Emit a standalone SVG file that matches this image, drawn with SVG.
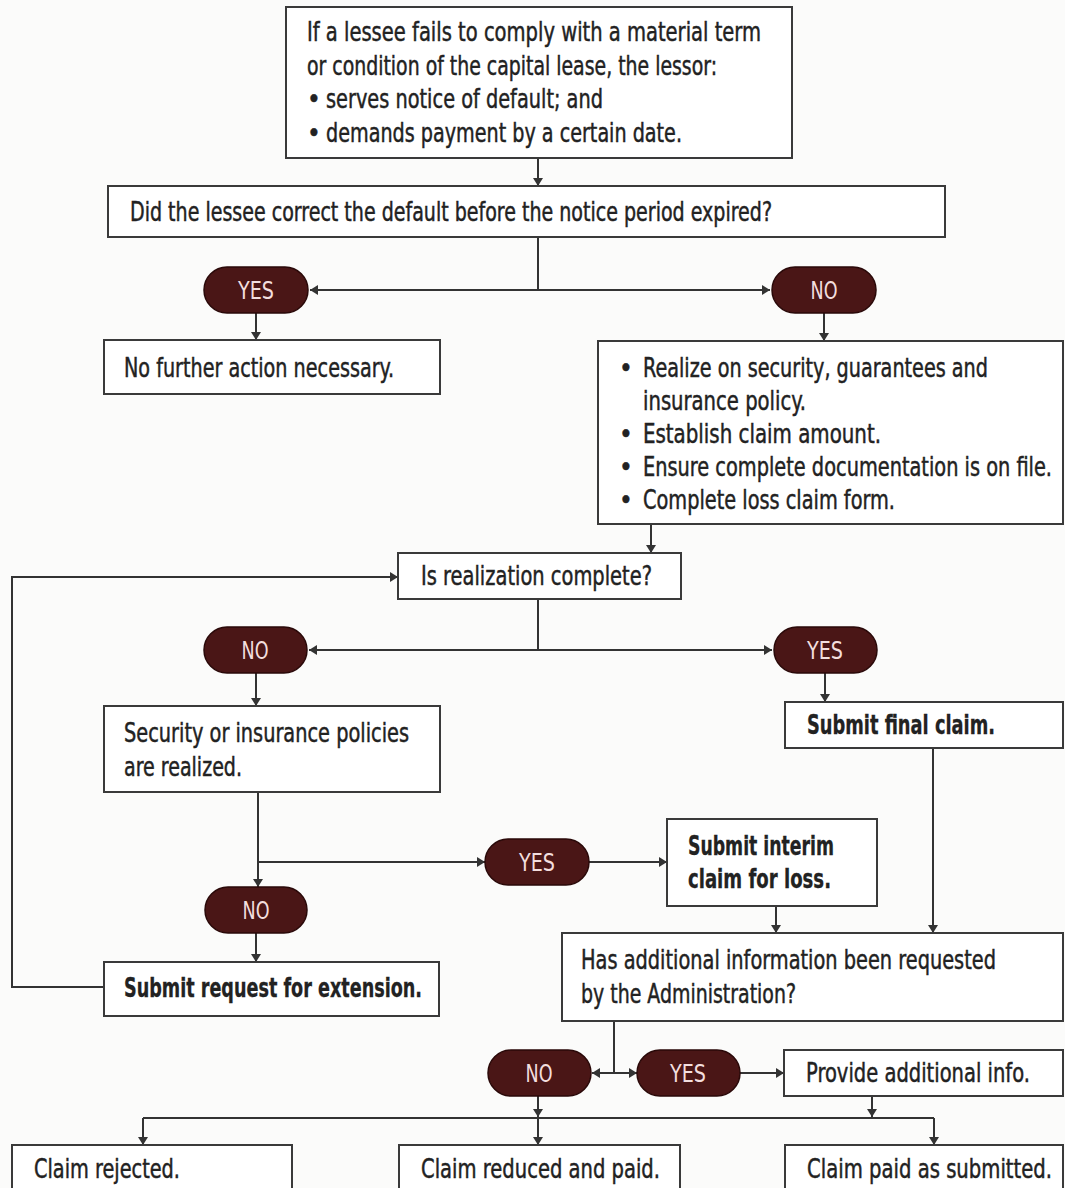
<svg xmlns="http://www.w3.org/2000/svg" width="1065" height="1188" viewBox="0 0 1065 1188">
<style>
.bg{fill:#fbfbfa}
.box{fill:#ffffff;stroke:#3a3a3a;stroke-width:2}
.pill{fill:#4a1616;stroke:#2a0909;stroke-width:1.5}
.t{font-family:"Liberation Sans Narrow","DejaVu Sans Condensed","Roboto Condensed","Liberation Sans",sans-serif;font-size:26px;fill:#222;stroke:#222;stroke-width:0.45}
.b{font-weight:bold;stroke-width:0.3}
.pl{font-family:"Liberation Sans Narrow","DejaVu Sans Condensed","Roboto Condensed","Liberation Sans",sans-serif;font-size:24px;fill:#f3dede;text-anchor:middle}
.c{fill:none;stroke:#333;stroke-width:2}
</style>
<defs>
<marker id="ah" viewBox="0 0 8 10" refX="8" refY="5" markerWidth="8" markerHeight="10" markerUnits="userSpaceOnUse" orient="auto-start-reverse">
<path d="M0,0 L8,5 L0,10 z" fill="#333"/>
</marker>
</defs>
<rect class="bg" x="0" y="0" width="1065" height="1188"/>

<g id="connectors">
<path class="c" d="M538,158 V186" marker-end="url(#ah)"/>
<path class="c" d="M538,237 V290"/>
<path class="c" d="M310,290 H770" marker-start="url(#ah)" marker-end="url(#ah)"/>
<path class="c" d="M256,313 V340" marker-end="url(#ah)"/>
<path class="c" d="M824,313 V341" marker-end="url(#ah)"/>
<path class="c" d="M651,524 V553" marker-end="url(#ah)"/>
<path class="c" d="M538,599 V650"/>
<path class="c" d="M309,650 H772" marker-start="url(#ah)" marker-end="url(#ah)"/>
<path class="c" d="M256,673 V706" marker-end="url(#ah)"/>
<path class="c" d="M825,673 V702" marker-end="url(#ah)"/>
<path class="c" d="M258,792 V887" marker-end="url(#ah)"/>
<path class="c" d="M258,862 H485" marker-end="url(#ah)"/>
<path class="c" d="M589,862 H667" marker-end="url(#ah)"/>
<path class="c" d="M256,933 V962" marker-end="url(#ah)"/>
<path class="c" d="M104,987 H12 V577 H398" marker-end="url(#ah)"/>
<path class="c" d="M933,748 V933" marker-end="url(#ah)"/>
<path class="c" d="M776,906 V933" marker-end="url(#ah)"/>
<path class="c" d="M614,1021 V1073"/>
<path class="c" d="M592,1073 H637" marker-start="url(#ah)" marker-end="url(#ah)"/>
<path class="c" d="M740,1073 H784" marker-end="url(#ah)"/>
<path class="c" d="M538,1096 V1117" marker-end="url(#ah)"/>
<path class="c" d="M872,1096 V1117" marker-end="url(#ah)"/>
<path class="c" d="M143,1118 H934"/>
<path class="c" d="M143,1118 V1145" marker-end="url(#ah)"/>
<path class="c" d="M538,1118 V1145" marker-end="url(#ah)"/>
<path class="c" d="M934,1118 V1145" marker-end="url(#ah)"/>
</g>

<g id="n-start">
<rect class="box" x="286" y="7" width="506" height="151"/>
<text class="t" x="307" y="41" textLength="454" lengthAdjust="spacingAndGlyphs">If a lessee fails to comply with a material term</text>
<text class="t" x="307" y="75" textLength="410" lengthAdjust="spacingAndGlyphs">or condition of the capital lease, the lessor:</text>
<text class="t" x="307" y="108">•</text>
<text class="t" x="326" y="108" textLength="277" lengthAdjust="spacingAndGlyphs">serves notice of default; and</text>
<text class="t" x="307" y="142">•</text>
<text class="t" x="326" y="142" textLength="356" lengthAdjust="spacingAndGlyphs">demands payment by a certain date.</text>
</g>

<g id="n-q1">
<rect class="box" x="108" y="186" width="837" height="51"/>
<text class="t" x="130" y="221" textLength="642" lengthAdjust="spacingAndGlyphs">Did the lessee correct the default before the notice period expired?</text>
</g>

<g id="p-yes1">
<rect class="pill" x="204" y="267" width="104" height="46" rx="23"/>
<text class="pl" x="256" y="299" textLength="36" lengthAdjust="spacingAndGlyphs">YES</text>
</g>
<g id="p-no1">
<rect class="pill" x="772" y="267" width="104" height="46" rx="23"/>
<text class="pl" x="824" y="299" textLength="27" lengthAdjust="spacingAndGlyphs">NO</text>
</g>

<g id="n-nofurther">
<rect class="box" x="104" y="340" width="336" height="54"/>
<text class="t" x="124" y="377" textLength="270" lengthAdjust="spacingAndGlyphs">No further action necessary.</text>
</g>

<g id="n-realize">
<rect class="box" x="598" y="341" width="465" height="183"/>
<text class="t" x="619" y="377">•</text>
<text class="t" x="643" y="377" textLength="345" lengthAdjust="spacingAndGlyphs">Realize on security, guarantees and</text>
<text class="t" x="643" y="410" textLength="163" lengthAdjust="spacingAndGlyphs">insurance policy.</text>
<text class="t" x="619" y="443">•</text>
<text class="t" x="643" y="443" textLength="238" lengthAdjust="spacingAndGlyphs">Establish claim amount.</text>
<text class="t" x="619" y="476">•</text>
<text class="t" x="643" y="476" textLength="409" lengthAdjust="spacingAndGlyphs">Ensure complete documentation is on file.</text>
<text class="t" x="619" y="509">•</text>
<text class="t" x="643" y="509" textLength="252" lengthAdjust="spacingAndGlyphs">Complete loss claim form.</text>
</g>

<g id="n-q2">
<rect class="box" x="398" y="553" width="283" height="46"/>
<text class="t" x="421" y="585" textLength="231" lengthAdjust="spacingAndGlyphs">Is realization complete?</text>
</g>

<g id="p-no2">
<rect class="pill" x="204" y="627" width="103" height="46" rx="23"/>
<text class="pl" x="255" y="659" textLength="27" lengthAdjust="spacingAndGlyphs">NO</text>
</g>
<g id="p-yes2">
<rect class="pill" x="774" y="627" width="103" height="46" rx="23"/>
<text class="pl" x="825" y="659" textLength="36" lengthAdjust="spacingAndGlyphs">YES</text>
</g>

<g id="n-security">
<rect class="box" x="104" y="706" width="336" height="86"/>
<text class="t" x="124" y="742" textLength="285" lengthAdjust="spacingAndGlyphs">Security or insurance policies</text>
<text class="t" x="124" y="776" textLength="118" lengthAdjust="spacingAndGlyphs">are realized.</text>
</g>

<g id="n-final">
<rect class="box" x="785" y="702" width="278" height="46"/>
<text class="t b" x="807" y="734" textLength="188" lengthAdjust="spacingAndGlyphs">Submit final claim.</text>
</g>

<g id="p-yes3">
<rect class="pill" x="485" y="839" width="104" height="46" rx="23"/>
<text class="pl" x="537" y="871" textLength="36" lengthAdjust="spacingAndGlyphs">YES</text>
</g>

<g id="n-interim">
<rect class="box" x="667" y="819" width="210" height="87"/>
<text class="t b" x="688" y="855" textLength="146" lengthAdjust="spacingAndGlyphs">Submit interim</text>
<text class="t b" x="688" y="888" textLength="143" lengthAdjust="spacingAndGlyphs">claim for loss.</text>
</g>

<g id="p-no3">
<rect class="pill" x="205" y="887" width="102" height="46" rx="23"/>
<text class="pl" x="256" y="919" textLength="27" lengthAdjust="spacingAndGlyphs">NO</text>
</g>

<g id="n-extension">
<rect class="box" x="104" y="962" width="335" height="54"/>
<text class="t b" x="124" y="997" textLength="298" lengthAdjust="spacingAndGlyphs">Submit request for extension.</text>
</g>

<g id="n-q3">
<rect class="box" x="562" y="933" width="501" height="88"/>
<text class="t" x="581" y="969" textLength="415" lengthAdjust="spacingAndGlyphs">Has additional information been requested</text>
<text class="t" x="581" y="1003" textLength="215" lengthAdjust="spacingAndGlyphs">by the Administration?</text>
</g>

<g id="p-no4">
<rect class="pill" x="488" y="1050" width="103" height="46" rx="23"/>
<text class="pl" x="539" y="1082" textLength="27" lengthAdjust="spacingAndGlyphs">NO</text>
</g>
<g id="p-yes4">
<rect class="pill" x="637" y="1050" width="103" height="46" rx="23"/>
<text class="pl" x="688" y="1082" textLength="36" lengthAdjust="spacingAndGlyphs">YES</text>
</g>

<g id="n-provide">
<rect class="box" x="784" y="1050" width="279" height="46"/>
<text class="t" x="806" y="1082" textLength="224" lengthAdjust="spacingAndGlyphs">Provide additional info.</text>
</g>

<g id="n-rejected">
<rect class="box" x="12" y="1145" width="280" height="60"/>
<text class="t" x="34" y="1178" textLength="146" lengthAdjust="spacingAndGlyphs">Claim rejected.</text>
</g>
<g id="n-reduced">
<rect class="box" x="399" y="1145" width="281" height="60"/>
<text class="t" x="421" y="1178" textLength="239" lengthAdjust="spacingAndGlyphs">Claim reduced and paid.</text>
</g>
<g id="n-paid">
<rect class="box" x="785" y="1145" width="278" height="60"/>
<text class="t" x="807" y="1178" textLength="245" lengthAdjust="spacingAndGlyphs">Claim paid as submitted.</text>
</g>
</svg>
